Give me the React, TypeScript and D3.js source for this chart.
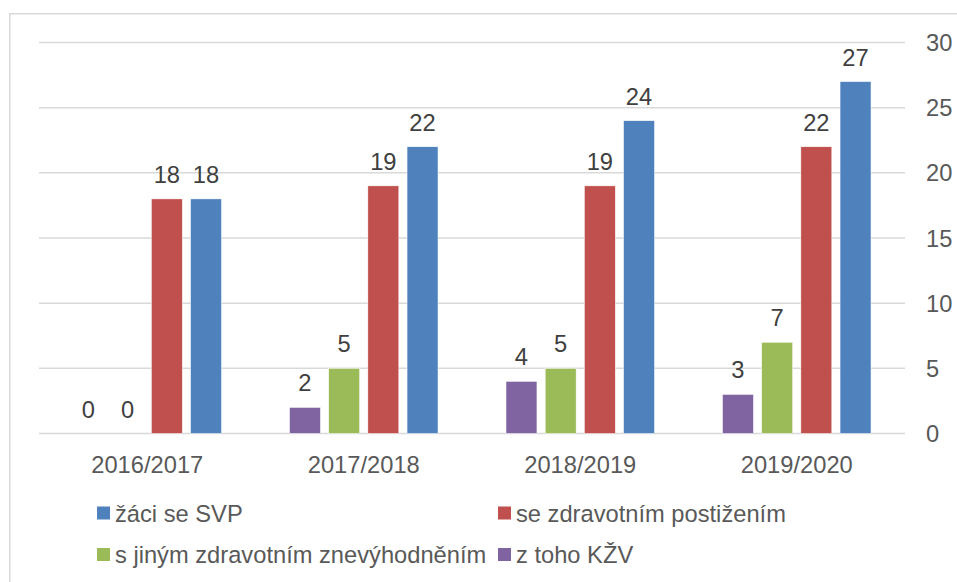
import { useMemo } from 'react';
import * as d3 from 'd3';

const WIDTH = 957;
const HEIGHT = 582;
const MARGIN = { top: 42.5, right: 52, bottom: 148.5, left: 39 };

const years = ['2016/2017', '2017/2018', '2018/2019', '2019/2020'];

// pořadí sloupců ve skupině (zleva doprava)
const seriesKeys = ['kzv', 'jine', 'postizeni', 'svp'];
const seriesNames = ['z toho KŽV', 's jiným zdravotním znevýhodněním', 'se zdravotním postižením', 'žáci se SVP'];
const seriesColors = ['#8064A2', '#9BBB59', '#C0504D', '#4F81BD'];

const kzv = [0, 2, 4, 3];
const jine = [0, 5, 5, 7];
const postizeni = [18, 19, 19, 22];
const svp = [18, 22, 24, 27];

const yTicks = [0, 5, 10, 15, 20, 25, 30];

// legenda: pořadí jako v Excelu (2 sloupce)
const legendOrder = ['svp', 'postizeni', 'jine', 'kzv'];

const FONT = '"Liberation Sans", Arial, sans-serif';
const TEXT = '#595959';

export default function App() {
  const boundsWidth = WIDTH - MARGIN.left - MARGIN.right;
  const boundsHeight = HEIGHT - MARGIN.top - MARGIN.bottom;

  const values: Record<string, number[]> = { kzv, jine, postizeni, svp };

  const xScale = useMemo(
    () => d3.scaleBand().domain(years).range([0, boundsWidth]).paddingInner(0.314).paddingOuter(0.157),
    [boundsWidth]
  );
  const xInner = useMemo(
    () => d3.scaleBand().domain(seriesKeys).range([0, xScale.bandwidth()]).paddingInner(0.21).paddingOuter(0),
    [xScale]
  );
  const yScale = useMemo(() => d3.scaleLinear().domain([0, 30]).range([boundsHeight, 0]), [boundsHeight]);

  return (
    <div style={{ position: 'fixed', left: 0, top: 0 }}>
      <svg width={WIDTH} height={HEIGHT} style={{ display: 'block', background: '#fff' }}>
        {/* rámeček grafu */}
        <rect x={9.75} y={13.75} width={WIDTH + 10} height={HEIGHT + 10} fill="none" stroke="#D9D9D9" strokeWidth={1.5} />

        <g transform={`translate(${MARGIN.left}, ${MARGIN.top})`}>
          {/* mřížka */}
          {yTicks.map((t) => (
            <line key={t} x1={0} x2={boundsWidth} y1={yScale(t)} y2={yScale(t)} stroke="#D9D9D9" strokeWidth={1.5} />
          ))}

          {/* osa Y vpravo */}
          {yTicks.map((t) => (
            <text
              key={t}
              x={boundsWidth + 21}
              y={yScale(t)}
              dy="0.36em"
              fontFamily={FONT}
              fontSize={23.7}
              fill={TEXT}
            >
              {t}
            </text>
          ))}

          {/* sloupce */}
          {years.map((year, i) => (
            <g key={year} transform={`translate(${xScale(year)}, 0)`}>
              {seriesKeys.map((k, j) => {
                const v = values[k][i];
                const x = xInner(k)!;
                const w = xInner.bandwidth();
                return (
                  <g key={k}>
                    <rect
                      x={x}
                      y={yScale(v)}
                      width={w}
                      height={boundsHeight - yScale(v)}
                      fill={seriesColors[j]}
                      stroke="#fff"
                      strokeWidth={0.5}
                    />
                    <text
                      x={x + w / 2}
                      y={yScale(v) - 16}
                      textAnchor="middle"
                      fontFamily={FONT}
                      fontSize={23.7}
                      fill="#404040"
                    >
                      {v}
                    </text>
                  </g>
                );
              })}
              <text
                x={xScale.bandwidth() / 2}
                y={boundsHeight + 39}
                textAnchor="middle"
                fontFamily={FONT}
                fontSize={23.7}
                fill={TEXT}
              >
                {year}
              </text>
            </g>
          ))}
        </g>

        {/* legenda */}
        {legendOrder.map((k, i) => {
          const idx = seriesKeys.indexOf(k);
          const col = i % 2;
          const row = Math.floor(i / 2);
          const lx = col === 0 ? 97 : 498;
          const ly = 521.5 + row * 41.5;
          return (
            <g key={k}>
              <rect x={lx} y={ly - 15} width={13} height={13} fill={seriesColors[idx]} />
              <text x={lx + 18} y={ly} fontFamily={FONT} fontSize={23.7} fill={TEXT}>
                {seriesNames[idx]}
              </text>
            </g>
          );
        })}
      </svg>
    </div>
  );
}
